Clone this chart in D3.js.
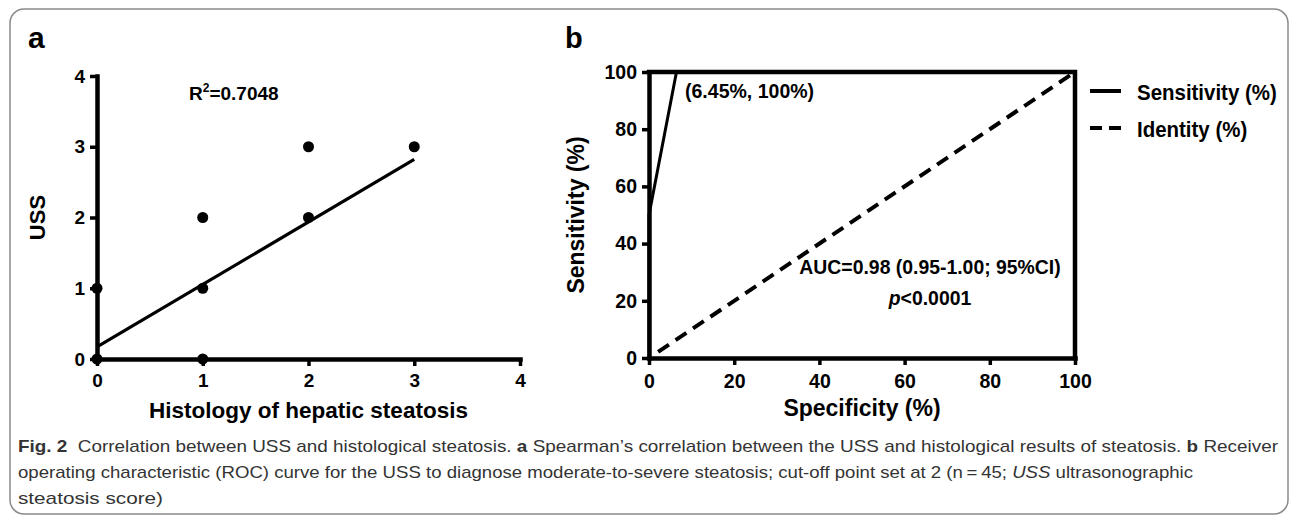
<!DOCTYPE html>
<html>
<head>
<meta charset="utf-8">
<script src="https://cdn.jsdelivr.net/npm/d3@7"></script>
<style>
  body { margin: 0; background: #fff; }
  svg { display: block; font-family: "Liberation Sans", Arial, sans-serif; }
  .axis path, .axis line { stroke: #000; }
  .axis text { fill: #000; font-weight: bold; }
</style>
</head>
<body>
<div id="chart"></div>
<script>
// panel a: USS vs histology scatter
const histology = [0, 0, 1, 1, 1, 2, 2, 3];
const ussScore = [0, 1, 0, 1, 2, 2, 3, 3];
const fitX = [0, 3];
const fitY = [0.17, 2.82];
const ticksA = [0, 1, 2, 3, 4];

// panel b: ROC curve
const rocSpecificity = [0, 0, 6.45, 100];
const rocSensitivity = [0, 50, 100, 100];
const identityX = [0, 100];
const identityY = [0, 100];
const ticksB = [0, 20, 40, 60, 80, 100];
const legendLabels = ['Sensitivity (%)', 'Identity (%)'];

const width = 1295;
const height = 521;

const svg = d3.select('#chart')
  .append('svg')
  .attr('width', width)
  .attr('height', height);

// outer rounded frame
svg.append('rect')
  .attr('x', 10).attr('y', 9)
  .attr('width', 1278).attr('height', 505)
  .attr('rx', 14)
  .attr('fill', 'none')
  .attr('stroke', '#8a8a8a')
  .attr('stroke-width', 1.5);

function styleAxis(g, fontSize) {
  g.attr('class', 'axis');
  g.select('.domain').attr('stroke-width', 4.5).attr('stroke-linecap', 'square');
  g.selectAll('.tick line').attr('stroke-width', 3.5);
  g.selectAll('.tick text').attr('font-size', fontSize);
}

// text squeezed horizontally, like the narrow type in panel b
function narrowText(x, y, size, sx) {
  return svg.append('text')
    .attr('transform', `translate(${x},${y}) scale(${sx},1)`)
    .attr('font-size', size)
    .attr('font-weight', 'bold');
}

// ---------- panel a ----------
const xA = d3.scaleLinear().domain([0, 4]).range([97, 520]);
const yA = d3.scaleLinear().domain([0, 4]).range([359, 76]);

svg.append('text')
  .attr('x', 28).attr('y', 48)
  .attr('font-size', 30).attr('font-weight', 'bold')
  .text('a');

svg.append('g')
  .attr('transform', `translate(0,${yA(0)})`)
  .call(d3.axisBottom(xA).tickValues(ticksA).tickFormat(d3.format('d'))
    .tickSize(7).tickSizeOuter(0).tickPadding(8))
  .call(g => styleAxis(g, 19));

svg.append('g')
  .attr('transform', `translate(${xA(0)},0)`)
  .call(d3.axisLeft(yA).tickValues(ticksA).tickFormat(d3.format('d'))
    .tickSize(7).tickSizeOuter(0).tickPadding(5))
  .call(g => styleAxis(g, 19));

svg.append('text')
  .attr('x', (xA(0) + xA(4)) / 2).attr('y', 418)
  .attr('text-anchor', 'middle')
  .attr('font-size', 22.5).attr('font-weight', 'bold')
  .text('Histology of hepatic steatosis');

svg.append('text')
  .attr('transform', `translate(45,${(yA(0) + yA(4)) / 2}) rotate(-90)`)
  .attr('text-anchor', 'middle')
  .attr('font-size', 22).attr('font-weight', 'bold')
  .text('USS');

// regression line
svg.append('line')
  .attr('x1', xA(fitX[0])).attr('y1', yA(fitY[0]))
  .attr('x2', xA(fitX[1])).attr('y2', yA(fitY[1]))
  .attr('stroke', '#000').attr('stroke-width', 3.2);

svg.append('g')
  .selectAll('circle')
  .data(histology)
  .join('circle')
  .attr('cx', d => xA(d))
  .attr('cy', (d, i) => yA(ussScore[i]))
  .attr('r', 5.5)
  .attr('fill', '#000');

const r2 = svg.append('text')
  .attr('x', 189).attr('y', 100)
  .attr('font-size', 19).attr('font-weight', 'bold');
r2.append('tspan').text('R');
r2.append('tspan').attr('font-size', 12).attr('dy', -8).text('2');
r2.append('tspan').attr('dy', 8).text('=0.7048');

// ---------- panel b ----------
const xB = d3.scaleLinear().domain([0, 100]).range([649, 1075]);
const yB = d3.scaleLinear().domain([0, 100]).range([358, 72]);

svg.append('text')
  .attr('x', 565).attr('y', 48)
  .attr('font-size', 29).attr('font-weight', 'bold')
  .text('b');

svg.append('g')
  .attr('transform', `translate(0,${yB(0)})`)
  .call(d3.axisBottom(xB).tickValues(ticksB).tickSize(7).tickSizeOuter(0).tickPadding(9))
  .call(g => styleAxis(g, 19.5));

svg.append('g')
  .attr('transform', `translate(${xB(0)},0)`)
  .call(d3.axisLeft(yB).tickValues(ticksB).tickSize(7).tickSizeOuter(0).tickPadding(5))
  .call(g => styleAxis(g, 19.5));

// top and right frame
svg.append('path')
  .attr('d', d3.line()([[xB(0), yB(100)], [xB(100), yB(100)], [xB(100), yB(0)]]))
  .attr('fill', 'none')
  .attr('stroke', '#000')
  .attr('stroke-width', 4.5)
  .attr('stroke-linecap', 'square');

svg.append('text')
  .attr('x', (xB(0) + xB(100)) / 2).attr('y', 416)
  .attr('text-anchor', 'middle')
  .attr('font-size', 23).attr('font-weight', 'bold')
  .text('Specificity (%)');

svg.append('text')
  .attr('transform', `translate(584,${(yB(0) + yB(100)) / 2}) rotate(-90)`)
  .attr('text-anchor', 'middle')
  .attr('font-size', 23).attr('font-weight', 'bold')
  .text('Sensitivity (%)');

const line = d3.line().x(d => xB(d[0])).y(d => yB(d[1]));

svg.append('path')
  .attr('d', line(identityX.map((v, i) => [v, identityY[i]])))
  .attr('fill', 'none')
  .attr('stroke', '#000')
  .attr('stroke-width', 4)
  .attr('stroke-dasharray', '13,8')
  .attr('stroke-dashoffset', 10);

svg.append('path')
  .attr('d', line(rocSpecificity.map((v, i) => [v, rocSensitivity[i]])))
  .attr('fill', 'none')
  .attr('stroke', '#000')
  .attr('stroke-width', 3);

narrowText(685, 98, 21, 0.93).text('(6.45%, 100%)');

narrowText(930, 274, 20, 0.97)
  .attr('text-anchor', 'middle')
  .text('AUC=0.98 (0.95-1.00; 95%CI)');

const pText = narrowText(930, 305, 20, 0.97)
  .attr('text-anchor', 'middle');
pText.append('tspan').attr('font-style', 'italic').text('p');
pText.append('tspan').text('<0.0001');

// legend
const legend = svg.append('g')
  .selectAll('g')
  .data(legendLabels)
  .join('g')
  .attr('transform', (d, i) => `translate(1090,${91 + i * 37})`);

legend.append('line')
  .attr('x1', 0).attr('x2', 31)
  .attr('stroke', '#000')
  .attr('stroke-width', 4)
  .attr('stroke-dasharray', (d, i) => i === 0 ? null : '12,7');

legend.append('text')
  .attr('transform', 'translate(47,9) scale(0.93,1)')
  .attr('font-size', 22).attr('font-weight', 'bold')
  .text(d => d);

// ---------- caption ----------
const captionLines = [
  [['Fig. 2', 'bold'], ['  Correlation between USS and histological steatosis. ', ''], ['a', 'bold'],
   [' Spearman\u2019s correlation between the USS and histological results of steatosis. ', ''], ['b', 'bold'], [' Receiver', '']],
  [['operating characteristic (ROC) curve for the USS to diagnose moderate-to-severe steatosis; cut-off point set at 2 (n\u2009=\u200945; ', ''],
   ['USS', 'italic'], [' ultrasonographic', '']],
  [['steatosis score)', '']]
];
const captionWidths = [1260, 1175, 145];
const captionY = [452, 478, 504];

captionLines.forEach((parts, i) => {
  const t = svg.append('text')
    .attr('x', 18).attr('y', captionY[i])
    .attr('font-size', 17)
    .attr('fill', '#333')
    .attr('textLength', captionWidths[i])
    .attr('lengthAdjust', 'spacingAndGlyphs')
    .style('white-space', 'pre');
  parts.forEach(p => {
    t.append('tspan')
      .attr('font-weight', p[1] === 'bold' ? 'bold' : null)
      .attr('font-style', p[1] === 'italic' ? 'italic' : null)
      .text(p[0]);
  });
});
</script>
</body>
</html>
